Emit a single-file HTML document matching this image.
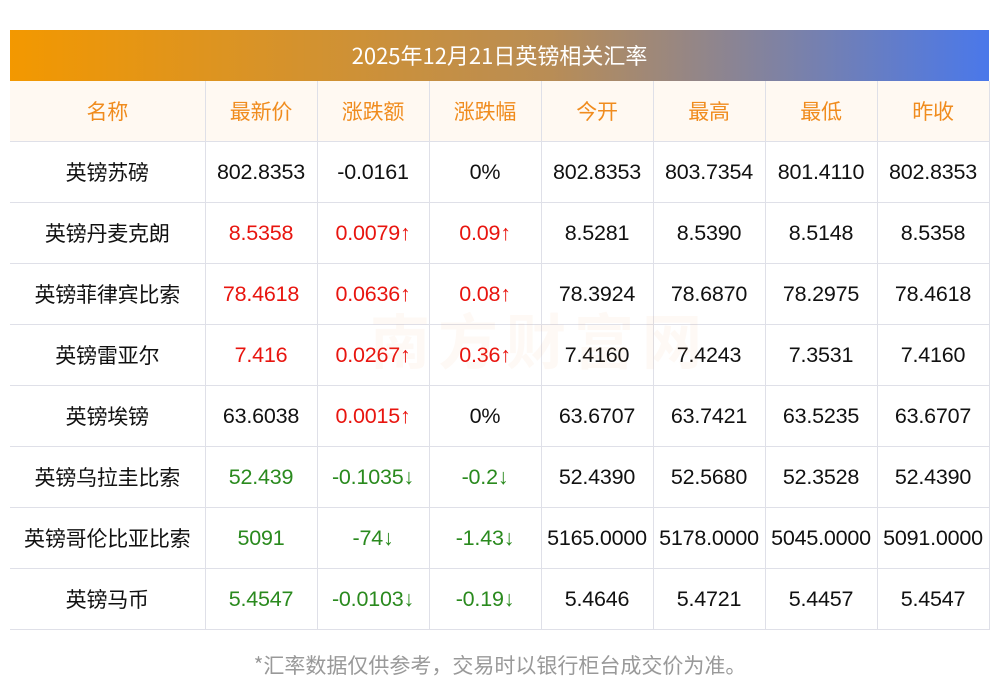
<!DOCTYPE html><html><head><meta charset="utf-8"><style>
body{margin:0;width:1000px;height:697px;background:#fff;font-family:"Liberation Sans","Noto Sans CJK SC",sans-serif;position:relative;overflow:hidden}
.title{position:absolute;left:10px;top:30px;width:979px;height:51px;background:linear-gradient(90deg,#f39800,#b98d55 55%,#4a78ea);color:#fff;font-size:22px;line-height:51px;text-align:center;font-family:"Noto Sans CJK SC",sans-serif}
table{position:absolute;left:10px;top:81px;border-collapse:collapse;table-layout:fixed;width:979px}
td{height:60px;border-bottom:1px solid #dfe0e8;border-right:1px solid #dfe0e8;text-align:center;font-size:21.5px;color:#111;padding:0;white-space:nowrap;line-height:24px;letter-spacing:-0.2px}
tr.h td,td:first-child{font-family:"Noto Sans CJK SC",sans-serif;font-size:21px}
tr.h td{background:#fff9f2;color:#f08c1e}
.r{color:#e8150f}.g{color:#2a8a1e}
.foot{position:absolute;top:650px;left:0;width:1000px;text-align:center;color:#999;font-size:21px;font-family:"Noto Sans CJK SC",sans-serif;line-height:30px}
.wm{position:absolute;left:370px;top:295px;font-size:60px;color:rgba(240,140,60,0.05);font-weight:bold;letter-spacing:8px;font-family:"Noto Sans CJK SC",sans-serif}
</style></head><body>
<div class="title">2025年12月21日英镑相关汇率</div>
<table>
<colgroup><col style="width:195px"><col style="width:112px"><col style="width:112px"><col style="width:112px"><col style="width:112px"><col style="width:112px"><col style="width:112px"><col style="width:112px"></colgroup>
<tr class="h"><td>名称</td><td>最新价</td><td>涨跌额</td><td>涨跌幅</td><td>今开</td><td>最高</td><td>最低</td><td>昨收</td></tr>
<tr><td>英镑苏磅</td><td>802.8353</td><td>-0.0161</td><td>0%</td><td>802.8353</td><td>803.7354</td><td>801.4110</td><td>802.8353</td></tr>
<tr><td>英镑丹麦克朗</td><td class="r">8.5358</td><td class="r">0.0079↑</td><td class="r">0.09↑</td><td>8.5281</td><td>8.5390</td><td>8.5148</td><td>8.5358</td></tr>
<tr><td>英镑菲律宾比索</td><td class="r">78.4618</td><td class="r">0.0636↑</td><td class="r">0.08↑</td><td>78.3924</td><td>78.6870</td><td>78.2975</td><td>78.4618</td></tr>
<tr><td>英镑雷亚尔</td><td class="r">7.416</td><td class="r">0.0267↑</td><td class="r">0.36↑</td><td>7.4160</td><td>7.4243</td><td>7.3531</td><td>7.4160</td></tr>
<tr><td>英镑埃镑</td><td>63.6038</td><td class="r">0.0015↑</td><td>0%</td><td>63.6707</td><td>63.7421</td><td>63.5235</td><td>63.6707</td></tr>
<tr><td>英镑乌拉圭比索</td><td class="g">52.439</td><td class="g">-0.1035↓</td><td class="g">-0.2↓</td><td>52.4390</td><td>52.5680</td><td>52.3528</td><td>52.4390</td></tr>
<tr><td>英镑哥伦比亚比索</td><td class="g">5091</td><td class="g">-74↓</td><td class="g">-1.43↓</td><td>5165.0000</td><td>5178.0000</td><td>5045.0000</td><td>5091.0000</td></tr>
<tr><td>英镑马币</td><td class="g">5.4547</td><td class="g">-0.0103↓</td><td class="g">-0.19↓</td><td>5.4646</td><td>5.4721</td><td>5.4457</td><td>5.4547</td></tr>
</table>
<div class="wm">南方财富网</div>
<div class="foot">*汇率数据仅供参考，交易时以银行柜台成交价为准。</div>
</body></html>
